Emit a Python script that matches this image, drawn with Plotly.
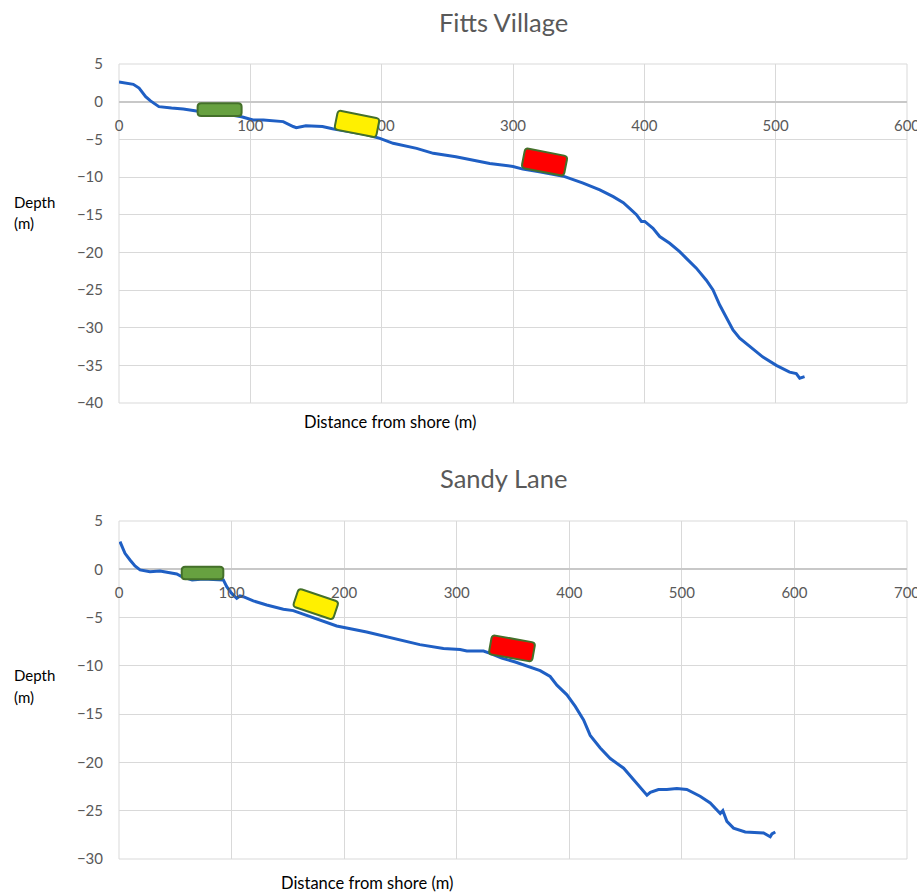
import math
import plotly.graph_objects as go

# ---------------- data ----------------
fv_dist = [0, 5, 10.9, 15.3, 20.3, 24, 28, 30.4, 40, 48.9, 59, 70, 80, 93.3, 102, 110, 125,
           132.6, 135, 142.3, 154.9, 162.5, 175, 188, 198.6, 208.7, 226.6, 239.3, 256.5, 267,
           282.3, 300, 307.5, 320, 330, 339.4, 353.4, 366.1, 376.3, 384, 389, 394, 397.8, 400.3,
           406.6, 411.7, 419.3, 426.9, 432, 439.6, 447.2, 452.3, 457.4, 462.5, 467.5, 472.6,
           480.2, 490.3, 500.5, 510.6, 515.7, 518.3, 522]
fv_depth = [2.6, 2.5, 2.3, 1.8, 0.66, 0.1, -0.44, -0.66, -0.85, -0.97, -1.23, -1.4, -1.6, -2.0,
            -2.43, -2.43, -2.65, -3.3, -3.45, -3.2, -3.3, -3.6, -3.95, -4.35, -4.87, -5.53, -6.2,
            -6.86, -7.3, -7.65, -8.2, -8.6, -8.95, -9.3, -9.6, -9.95, -10.8, -11.7, -12.6, -13.4,
            -14.2, -15.0, -15.9, -15.9, -16.8, -17.9, -18.8, -19.9, -20.8, -22.1, -23.7, -25.0,
            -27.0, -28.6, -30.3, -31.4, -32.5, -33.9, -35.0, -35.9, -36.1, -36.7, -36.5]

sl_dist = [0.9, 2.4, 5.3, 9.8, 14.2, 18.7, 27.5, 36.4, 45.3, 51.3, 55.7, 65, 75, 85, 92.7, 95.7,
           100.1, 104.6, 107.5, 110.4, 119.3, 131.2, 146, 154.8, 165, 177, 187.5, 193.4, 220,
           249.4, 267.2, 288.2, 303, 309, 323.8, 329.7, 340, 352, 365.2, 374.1, 383, 389, 397.9,
           405.3, 412.7, 418.6, 427.5, 436.4, 448.3, 457.2, 464.6, 469, 472, 479.2, 486.6, 495.5,
           504.4, 516.2, 525.2, 531.1, 534.1, 536.4, 540, 545.9, 556.3, 572.6, 578.5, 580, 583]
sl_depth = [2.86, 2.5, 1.65, 0.96, 0.34, -0.07, -0.25, -0.18, -0.35, -0.49, -0.76, -1.1, -1.0,
            -1.1, -1.1, -1.8, -2.5, -3.0, -2.76, -2.84, -3.28, -3.7, -4.14, -4.28, -4.7, -5.2,
            -5.6, -5.87, -6.5, -7.3, -7.8, -8.2, -8.3, -8.46, -8.46, -8.7, -9.2, -9.6, -10.1,
            -10.5, -11.1, -12.0, -13.0, -14.2, -15.6, -17.2, -18.5, -19.6, -20.6, -21.8, -22.7,
            -23.4, -23.1, -22.8, -22.8, -22.7, -22.8, -23.5, -24.2, -24.9, -25.3, -25.0, -26.1,
            -26.8, -27.2, -27.3, -27.7, -27.4, -27.2]

fv_xticks = [0, 100, 200, 300, 400, 500, 600]
fv_yticks = [5, 0, -5, -10, -15, -20, -25, -30, -35, -40]
sl_xticks = [0, 100, 200, 300, 400, 500, 600, 700]
sl_yticks = [5, 0, -5, -10, -15, -20, -25, -30]

# zone markers: (distance, depth) centres
fv_zone_x = [76.6, 181.2, 324.0]
fv_zone_y = [-1.06, -2.95, -8.01]
sl_zone_x = [74.2, 174.8, 349.1]
sl_zone_y = [-0.38, -3.61, -8.19]
zone_colors = ["#67A140", "#FFF000", "#FF0000"]

# ---------------- styling ----------------
FONT = "Lato, 'Liberation Sans', sans-serif"
GRID = "#D9D9D9"
TICKC = "#595959"
LINEC = "#1F5FC4"
W, H = 917, 894
# target pixel positions in the window
P_LEFT, P_RIGHT, P_TOP, P_BOTTOM = 119, 907, 64, 859
ML, MR, MT, MB = P_LEFT, W - P_RIGHT, P_TOP, H - P_BOTTOM
PW, PH = P_RIGHT - P_LEFT, P_BOTTOM - P_TOP
EPS = 0.002


def py(pix):  # window pixel y -> paper
    return (P_BOTTOM - pix) / PH


def px(pix):
    return (pix - P_LEFT) / PW


def rounded_box(w, h, ang, r=3.5):
    a = math.radians(ang)
    ca, sa = math.cos(a), math.sin(a)

    def t(u, v):
        return (u * ca + v * sa, -u * sa + v * ca)

    hw, hh = w / 2, h / 2
    seq = [
        ("M", [(-hw + r, hh)]),
        ("L", [(hw - r, hh)]),
        ("Q", [(hw, hh), (hw, hh - r)]),
        ("L", [(hw, -hh + r)]),
        ("Q", [(hw, -hh), (hw - r, -hh)]),
        ("L", [(-hw + r, -hh)]),
        ("Q", [(-hw, -hh), (-hw, -hh + r)]),
        ("L", [(-hw, hh - r)]),
        ("Q", [(-hw, hh), (-hw + r, hh)]),
    ]
    parts = []
    for cmd, ps in seq:
        parts.append(cmd + " ".join("%.2f,%.2f" % t(u, v) for u, v in ps))
    return " ".join(parts) + " Z"


fig = go.Figure()
fig.add_trace(go.Scatter(x=fv_dist, y=fv_depth, mode="lines", xaxis="x", yaxis="y",
                         line=dict(color=LINEC, width=3), showlegend=False, hoverinfo="skip"))
fig.add_trace(go.Scatter(x=sl_dist, y=sl_depth, mode="lines", xaxis="x2", yaxis="y2",
                         line=dict(color=LINEC, width=3), showlegend=False, hoverinfo="skip"))

box_geom_fv = [(44, 12.7, 0), (42.5, 19.3, 11.3), (43.1, 20.1, 11.1)]
box_geom_sl = [(41.6, 12.6, 0), (42.2, 19.0, 18.5), (44.0, 19.3, 10.1)]

shapes = []
# plot-area borders (grid lines at the range ends)
for xr, yr in [("x", "y"), ("x2", "y2")]:
    shapes.append(dict(type="rect", xref=xr + " domain", yref=yr + " domain",
                       x0=0, x1=1, y0=0, y1=1, line=dict(color=GRID, width=1),
                       fillcolor="rgba(0,0,0,0)", layer="below"))
for xs, ys, geoms, xr, yr in [(fv_zone_x, fv_zone_y, box_geom_fv, "x", "y"),
                              (sl_zone_x, sl_zone_y, box_geom_sl, "x2", "y2")]:
    for cx, cy, (w, h, ang), col in zip(xs, ys, geoms, zone_colors):
        shapes.append(dict(type="path", xref=xr, yref=yr, xsizemode="pixel", ysizemode="pixel",
                           xanchor=cx, yanchor=cy, path=rounded_box(w, h, ang),
                           fillcolor=col, line=dict(color="#44702A", width=2)))

axis_common = dict(showgrid=True, gridcolor=GRID, gridwidth=1, zeroline=False, showline=False,
                   tickfont=dict(family=FONT, size=15, color=TICKC), automargin=False,
                   fixedrange=True, ticklabeloverflow="allow")

fig.update_layout(
    width=W, height=H, template="none",
    margin=dict(l=ML, r=MR, t=MT, b=MB),
    paper_bgcolor="white", plot_bgcolor="white",
    shapes=shapes,
    xaxis=dict(axis_common, domain=[0, 1], range=[0, 600 + EPS], tickvals=fv_xticks,
               anchor="free", position=py(101.7), ticks="outside", ticklen=10,
               tickcolor="rgba(0,0,0,0)"),
    yaxis=dict(axis_common, domain=[py(403), 1], range=[-40, 5], tickvals=fv_yticks,
               zeroline=True, zerolinecolor="#C8C8C8", zerolinewidth=1.5,
               ticks="outside", ticklen=12, tickcolor="rgba(0,0,0,0)"),
    xaxis2=dict(axis_common, domain=[0, 1], range=[0, 700 + EPS], tickvals=sl_xticks,
                anchor="free", position=py(569.3), ticks="outside", ticklen=10,
                tickcolor="rgba(0,0,0,0)"),
    yaxis2=dict(axis_common, domain=[0, py(521)], range=[-30, 5], tickvals=sl_yticks,
                zeroline=True, zerolinecolor="#C8C8C8", zerolinewidth=1.5,
                ticks="outside", ticklen=12, tickcolor="rgba(0,0,0,0)"),
)

ann = []


def txt(s, x, y, size, color, xanchor="center"):
    ann.append(dict(text=s, x=px(x), y=py(y), xref="paper", yref="paper", showarrow=False,
                    xanchor=xanchor, yanchor="middle",
                    font=dict(family=FONT, size=size, color=color)))


txt("Fitts Village", 503, 22, 25.5, "#595959")
txt("Sandy Lane", 503, 478, 25.5, "#595959")
txt("Depth", 12, 202, 15, "#000000", "left")
txt("(m)", 12, 223, 15, "#000000", "left")
txt("Depth", 12, 675, 15, "#000000", "left")
txt("(m)", 12, 697, 15, "#000000", "left")
txt("Distance from shore (m)", 389.7, 421.7, 16.5, "#000000")
txt("Distance from shore (m)", 367, 883, 16.5, "#000000")
fig.update_layout(annotations=ann)

fig.write_html("out.html", config={"displayModeBar": False},
               post_script="document.body.style.margin='0';document.body.style.overflow='hidden';")
